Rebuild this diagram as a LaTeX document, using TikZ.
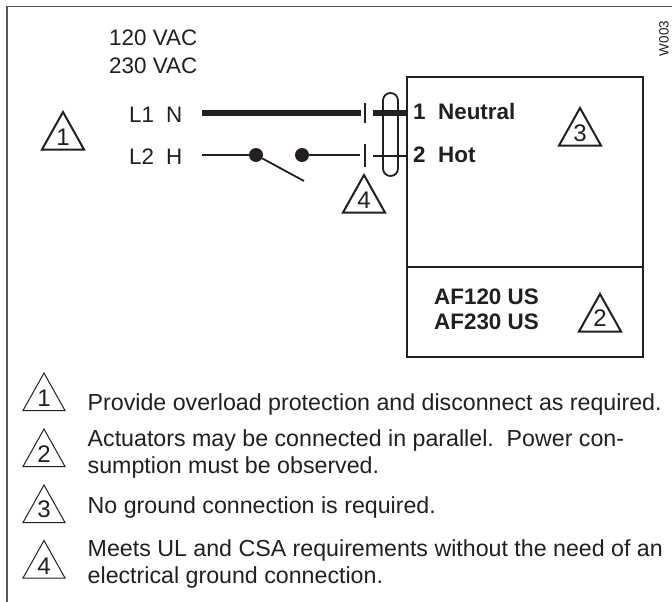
\documentclass[tikz,border=0pt]{standalone}
\usepackage{fontspec}
\setmainfont{Liberation Sans}
\definecolor{ink}{HTML}{231F20}
\tikzset{x=1pt,y=-1pt,
  txt/.style={inner sep=0pt,anchor=base west,font=\fontsize{22.4}{27}\selectfont,text=ink},
  legend/.style={txt,align=left,font=\fontsize{23.2}{27}\selectfont},
  boldtxt/.style={txt,align=left,font=\bfseries\fontsize{22.4}{25}\selectfont},
  wire/.style={draw=ink,line width=1.8pt},
  heavy/.style={draw=ink,line width=6pt},
  tick/.style={draw=ink,line width=1.8pt},
  dot/.style={circle,fill=ink,inner sep=0pt,minimum size=14pt},
  bigtri/.style={draw=ink,line width=2pt,line join=miter},
  smalltri/.style={draw=ink,line width=1pt,line join=miter},
  trinum/.style={inner sep=0pt,font=\fontsize{24}{26}\selectfont,text=ink}}
% \tri{name}{style}{apex x}{apex y}{number}{digit offset}
\newcommand{\tri}[6]{%
  \coordinate (#1a) at (#3,#4);
  \coordinate (#1b) at (#3-21,#4+37.5);
  \coordinate (#1c) at (#3+21,#4+37.5);
  \draw[#2] (#1a) -- (#1b) -- (#1c) -- cycle;
  \node[trinum] (#1) at (#3,#4+#6) {#5};}
\begin{document}
\begin{tikzpicture}
\useasboundingbox (0,0) rectangle (672,602);
\fill[white] (0,0) rectangle (672,602);
% frame
\coordinate (fa) at (7,602);
\coordinate (fb) at (7,6.5);
\coordinate (fc) at (672,6.5);
\draw[draw=ink!75,line width=1.5pt] (fa) -- (fb) -- (fc);
% texts
\node[txt] (v1) at (109,46) {120 VAC};
\node[txt] (v2) at (109,74) {230 VAC};
\node[txt] (l1) at (129,122) {L1};
\node[txt] (n1) at (166,122) {N};
\node[txt] (l2) at (129,164) {L2};
\node[txt] (h1) at (166,164) {H};
\node[inner sep=0pt,text=ink,rotate=90,font=\fontsize{13.5}{15}\selectfont] (w) at (664,38.5) {W003};
% box
\node[draw=ink,line width=2pt,inner sep=0pt,minimum width=236pt,minimum height=280pt] (box) at (524.7,217) {};
\coordinate (dl) at (406.7,267);
\coordinate (dr) at (642.7,267);
\draw[draw=ink,line width=2pt] (dl) -- (dr);
\node[boldtxt] (t1) at (413,119) {1\hspace{12.5pt}Neutral};
\node[boldtxt] (t2) at (413,162) {2\hspace{12.5pt}Hot};
\node[boldtxt,anchor=west] (af) at (434,309.5) {AF120 US\\AF230 US};
% wires
\coordinate (a1) at (202,113); \coordinate (a2) at (361,113);
\coordinate (a3) at (373,113); \coordinate (a4) at (407,113);
\draw[heavy] (a1) -- (a2);
\draw[heavy] (a3) -- (a4);
\coordinate (b1) at (202,155); \coordinate (b4) at (360,155);
\coordinate (b5) at (373,156); \coordinate (b6) at (407,156);
\coordinate (sw) at (304,181);
\node[dot] (d1) at (256,155) {};
\node[dot] (d2) at (302,155) {};
\draw[wire] (b1) -- (d1);
\draw[wire] (d2) -- (b4);
\draw[wire] (b5) -- (b6);
\draw[wire] (d1) -- (sw);
\coordinate (k1) at (365,103); \coordinate (k2) at (365,123);
\coordinate (k3) at (365,144); \coordinate (k4) at (365,167);
\draw[tick] (k1) -- (k2);
\draw[tick] (k3) -- (k4);
\node[draw=ink,line width=1.8pt,rounded corners=7.5pt,inner sep=0pt,minimum width=15pt,minimum height=83pt] (oval) at (390.5,134.5) {};
% big triangles
\tri{ta}{bigtri}{63}{112}{1}{25}
\tri{tb}{bigtri}{364}{175}{4}{25}
\tri{tc}{bigtri}{580}{108}{3}{25}
\tri{td}{bigtri}{600}{294}{2}{24}
% legend
\tri{la}{smalltri}{44}{373}{1}{25}
\tri{lb}{smalltri}{44}{429}{2}{25}
\tri{lc}{smalltri}{44}{485}{3}{24}
\tri{ld}{smalltri}{44}{540.5}{4}{26}
\node[legend] (p1) at (87.5,410) {Provide overload protection and disconnect as required.};
\node[legend,anchor=west] (p2) at (87.5,454) {Actuators may be connected in parallel.\ \ Power con-\\sumption must be observed.};
\node[legend] (p3) at (87.5,513) {No ground connection is required.};
\node[legend,anchor=west] (p4) at (87.5,563.5) {Meets UL and CSA requirements without the need of an\\electrical ground connection.};
\end{tikzpicture}
\end{document}
